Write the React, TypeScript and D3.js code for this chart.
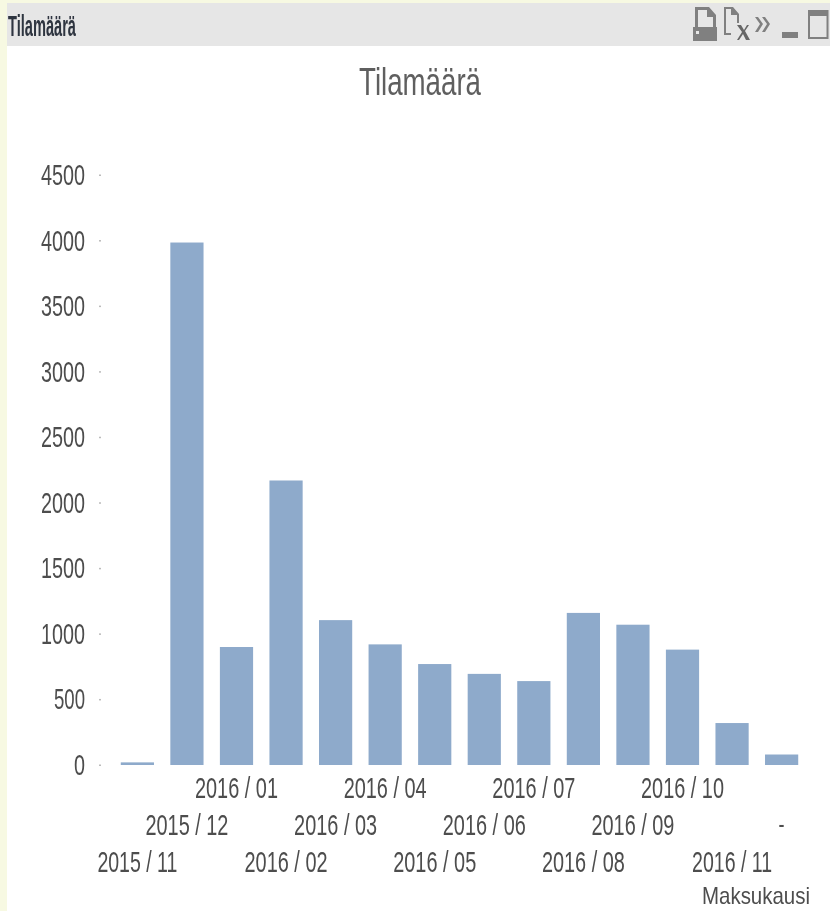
import React, { useEffect } from "react";
import * as d3 from "d3";

const categories = ["2015 / 11","2015 / 12","2016 / 01","2016 / 02","2016 / 03","2016 / 04","2016 / 05","2016 / 06","2016 / 07","2016 / 08","2016 / 09","2016 / 10","2016 / 11","-"];
const values = [20,3985,900,2170,1105,920,770,695,640,1160,1070,880,320,80];
const yTicks = [0,500,1000,1500,2000,2500,3000,3500,4000,4500];
const title = "Tilamäärä";
const xTitle = "Maksukausi";

const W = 830, H = 911;
const FONT = "'Liberation Sans', Arial, sans-serif";

const T = ({x,y,w,size,anchor="start",fill="#4d4d4d",children,weight}: any) => (
  <text x={x} y={y} fontSize={size} fontFamily={FONT} fill={fill} fontWeight={weight}
    textAnchor={anchor} textLength={w} lengthAdjust="spacingAndGlyphs">{children}</text>
);

export default function App() {
  useEffect(() => {
    document.body.style.margin = "0";
    document.body.style.background = "#fff";
  }, []);
  const x = d3.scaleBand<string>().domain(categories).range([112.6, 806.4]).paddingInner(0.33).paddingOuter(0.165);
  const y = d3.scaleLinear().domain([0, 4500]).range([765, 175]);
  const rows = [872, 835, 798];
  return (
    <svg width={W} height={H} viewBox={`0 0 ${W} ${H}`} style={{ position: "absolute", left: 0, top: 0, display: "block" }}>
      <defs>
        <filter id="soft" x="-5%" y="-5%" width="110%" height="110%"><feGaussianBlur stdDeviation="0.6" /></filter>
      </defs>
      <rect width={W} height={H} fill="#fff" />
      <rect width={W} height={3} fill="#f7f9e2" />
      <rect width={7} height={H} fill="#f7f9e2" />
      <rect x={7} y={3} width={W - 7} height={43} fill="#e6e6e6" />

      <g filter="url(#soft)">
        <T x={8} y={36} w={68} size={30} fill="#2f3540" weight="bold">{title}</T>
        <T x={420} y={95} w={122} size={38} anchor="middle" fill="#5f5f5f">{title}</T>

        {/* window icons */}
        <g fill="#808080" stroke="none">
          <path d="M695 7h14l7 8v12h-3V17h-6v-7h-9v17h-3z" />
          <rect x="693" y="27" width="24" height="14" />
          <rect x="696" y="31" width="3" height="3" fill="#e6e6e6" />
          <path d="M724 7h9l6 7v9h-2V15h-6V9h-5v24h5v2h-7z" />
          <path d="M737 25h4l3 5 3-5h2l-4 6 5 9h-4l-3-6-4 6h-2l5-8z" fill="#666" />
          <path d="M755 17l5 7-5 8h3l5-8-5-7zM762 17l5 7-5 8h3l5-8-5-7z" />
          <rect x="782" y="32" width="16" height="6" />
          <rect x="809" y="11" width="18.5" height="27" fill="none" stroke="#808080" strokeWidth="2" />
          <rect x="809" y="10" width="19" height="6" />
        </g>

        {yTicks.map(t => (
          <g key={t}>
            <T x={85} y={y(t) + 10} w={t === 0 ? 11 : t === 500 ? 31 : 44} size={30} anchor="end">{t}</T>
            <rect x={99} y={y(t) - 0.5} width={2} height={1.5} fill="#bbb" />
          </g>
        ))}

        {categories.map((c, i) => {
          const cx = x(c)! + x.bandwidth() / 2;
          return c === "-" ? (
            <T key={c} x={cx} y={rows[1] - 2} w={6} size={26} anchor="middle">{c}</T>
          ) : (
            <T key={c} x={cx} y={rows[i % 3]} w={c.endsWith("11") ? 80 : 83} size={30} anchor="middle">{c}</T>
          );
        })}
        <T x={810} y={904} w={108} size={24} anchor="end">{xTitle}</T>
      </g>

      {categories.map((c, i) => (
        <rect key={c} x={x(c)} y={y(values[i])} width={x.bandwidth()} height={y(0) - y(values[i])} fill="#8eaacb" />
      ))}
    </svg>
  );
}
